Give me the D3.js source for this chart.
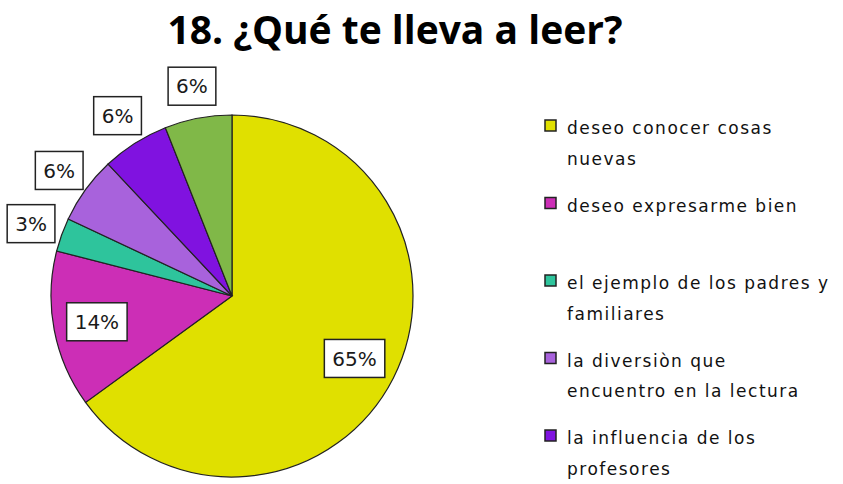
<!DOCTYPE html>
<html>
<head>
<meta charset="utf-8">
<script src="https://cdn.jsdelivr.net/npm/d3@7"></script>
<style>
    body { margin: 0; background: #fff; }
    svg { display: block; }
</style>
</head>
<body>
<div id="root"></div>
<script>
// chart data
const title = "18. ¿Qué te lleva a leer?";
const categories = [
    "deseo conocer cosas nuevas",
    "deseo expresarme bien",
    "el ejemplo de los padres y familiares",
    "la diversiòn que encuentro en la lectura",
    "la influencia de los profesores",
    "otros"
];
const values = [65, 14, 3, 6, 6, 6];
// legend lines as they wrap in the original
const legendLines = [
    ["deseo conocer cosas", "nuevas"],
    ["deseo expresarme bien"],
    ["el ejemplo de los padres y", "familiares"],
    ["la diversiòn que", "encuentro en la lectura"],
    ["la influencia de los", "profesores"]
];
const colors = ["#E0E000", "#CC2EB6", "#2EC49C", "#A862DC", "#8012E0", "#80B848"];

const width = 843, height = 484;
const cx = 232, cy = 296, radius = 181;

const svg = d3.select("#root")
    .append("svg")
    .attr("width", width)
    .attr("height", height);

// title
svg.append("text")
    .attr("x", 395)
    .attr("y", 44)
    .attr("text-anchor", "middle")
    .style("font-family", "'Open Sans', sans-serif")
    .style("font-weight", "bold")
    .style("font-size", "39px")
    .attr("fill", "#000")
    .text(title);

const pie = d3.pie().sort(null).value(d => d);
const arcs = pie(values);

const arc = d3.arc().innerRadius(0).outerRadius(radius);
const innerLabel = d3.arc().innerRadius(radius * 0.76).outerRadius(radius * 0.76);
const outerLabel = d3.arc().innerRadius(radius * 1.18).outerRadius(radius * 1.18);

const g = svg.append("g")
    .attr("transform", `translate(${cx}, ${cy})`);

g.selectAll("path.slice")
    .data(arcs)
    .enter()
    .append("path")
        .attr("class", "slice")
        .attr("d", arc)
        .attr("fill", (d, i) => colors[i])
        .attr("stroke", "#222")
        .attr("stroke-width", 1.2);

// labels in white boxes
const labels = g.selectAll("g.label")
    .data(arcs)
    .enter()
    .append("g")
        .attr("class", "label")
        .attr("transform", d => {
            const p = (d.value > 10 ? innerLabel : outerLabel).centroid(d);
            return `translate(${p[0]}, ${p[1]})`;
        });

labels.append("rect")
    .attr("fill", "#fff")
    .attr("stroke", "#222")
    .attr("stroke-width", 1.5);

labels.append("text")
    .attr("text-anchor", "middle")
    .attr("dy", "0.36em")
    .style("font-family", "'DejaVu Sans', sans-serif")
    .style("font-size", "20px")
    .attr("fill", "#1a1a1a")
    .text(d => d.value + "%");

labels.each(function() {
    const t = d3.select(this).select("text").node().getBBox();
    const padX = 8, h = 38;
    d3.select(this).select("rect")
        .attr("x", -t.width / 2 - padX)
        .attr("y", -h / 2)
        .attr("width", t.width + padX * 2)
        .attr("height", h);
});

// legend
const legend = svg.append("g")
    .attr("transform", "translate(545, 120)");

const item = legend.selectAll("g.item")
    .data(legendLines)
    .enter()
    .append("g")
        .attr("class", "item")
        .attr("transform", (d, i) => `translate(0, ${i * 77.5})`);

item.append("rect")
    .attr("width", 11)
    .attr("height", 11)
    .attr("fill", (d, i) => colors[i])
    .attr("stroke", "#222")
    .attr("stroke-width", 1.5);

item.selectAll("text")
    .data(d => d)
    .enter()
    .append("text")
        .attr("x", 22)
        .attr("y", (d, i) => 14 + i * 30.5)
        .style("font-family", "'DejaVu Sans', sans-serif")
        .style("font-size", "17px")
        .style("letter-spacing", "1.5px")
        .attr("fill", "#111")
        .text(d => d);
</script>
</body>
</html>
